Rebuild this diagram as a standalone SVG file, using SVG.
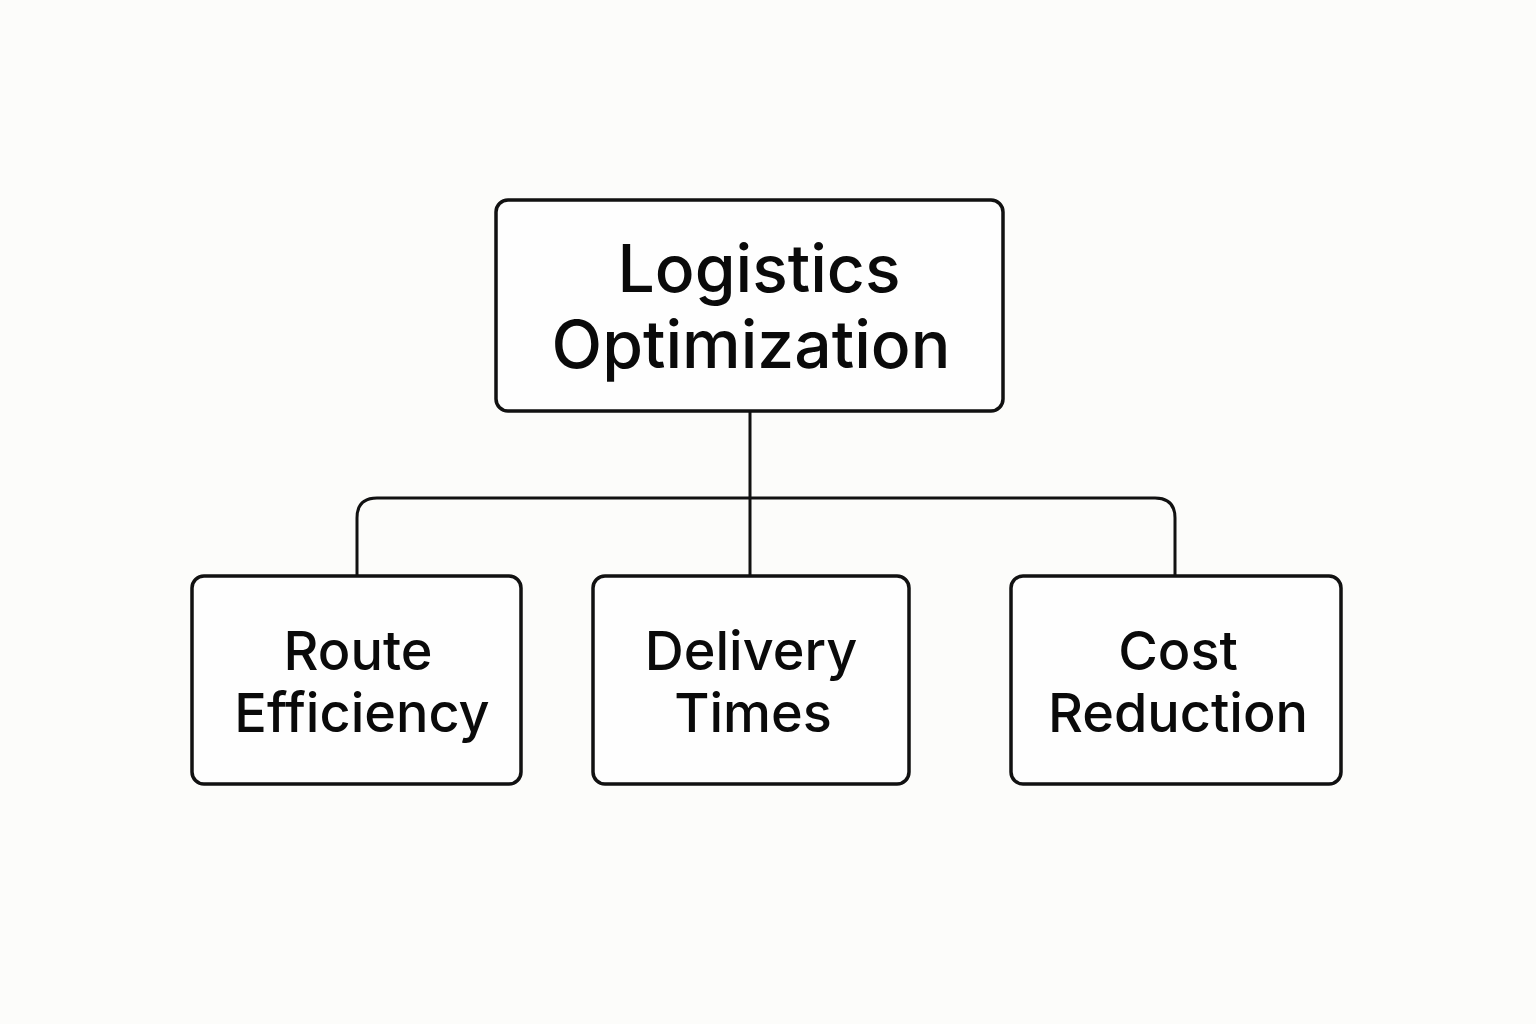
<svg xmlns="http://www.w3.org/2000/svg" width="1536" height="1024" viewBox="0 0 1536 1024">
<style>
.box{fill:#fefefe;stroke:#111;stroke-width:3.5}
.t{font-family:Inter,"Noto Sans",sans-serif;font-weight:500;fill:#0a0a0a;text-anchor:middle}
.big{font-size:66px}
.small{font-size:54px}
.c{fill:none;stroke:#111;stroke-width:3}
</style>
<rect width="1536" height="1024" fill="#fcfcfa"/>
<g id="connectors">
<path class="c" d="M750 411 V576"/>
<path class="c" d="M357 576 V518 Q357 498 377 498 H1155 Q1175 498 1175 518 V576"/>
</g>
<g id="root">
<rect class="box" x="496" y="200" width="507" height="211" rx="12"/>
<text class="t big" x="759" y="292">Logistics</text>
<text class="t big" x="751" y="368">Optimization</text>
</g>
<g id="route">
<rect class="box" x="192" y="576" width="329" height="208" rx="12"/>
<text class="t small" x="358" y="670">Route</text>
<text class="t small" x="362" y="732">Efficiency</text>
</g>
<g id="delivery">
<rect class="box" x="593" y="576" width="316" height="208" rx="12"/>
<text class="t small" x="751" y="670">Delivery</text>
<text class="t small" x="753" y="732">Times</text>
</g>
<g id="cost">
<rect class="box" x="1011" y="576" width="330" height="208" rx="12"/>
<text class="t small" x="1178" y="670">Cost</text>
<text class="t small" x="1178" y="732">Reduction</text>
</g>
</svg>
